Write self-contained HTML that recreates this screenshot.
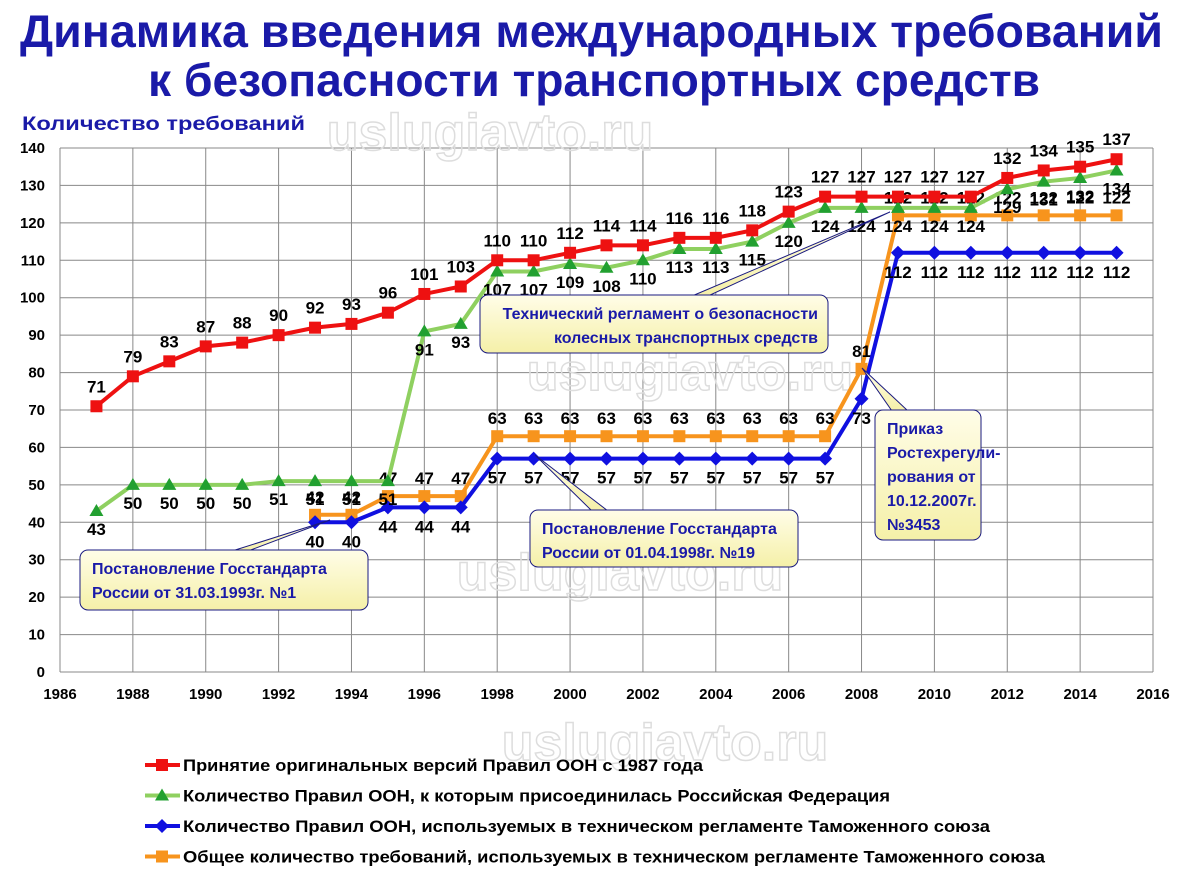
<!DOCTYPE html><html><head><meta charset="utf-8"><style>
body{margin:0;background:#fff;width:1185px;height:871px;overflow:hidden;font-family:"Liberation Sans",sans-serif}
</style></head><body>
<svg id="s" width="1185" height="871" xmlns="http://www.w3.org/2000/svg" font-family="Liberation Sans, sans-serif">
<defs><linearGradient id="g" x1="0" y1="0" x2="0" y2="1"><stop offset="0" stop-color="#fffde8"/><stop offset="1" stop-color="#f5f0a8"/></linearGradient></defs>
<text x="20" y="47" font-size="46" font-weight="bold" fill="#1a1aa8" textLength="1143" lengthAdjust="spacingAndGlyphs">Динамика введения международных требований</text>
<text x="148" y="96" font-size="46" font-weight="bold" fill="#1a1aa8" textLength="892" lengthAdjust="spacingAndGlyphs">к безопасности транспортных средств</text>
<text x="22" y="130" font-size="19" font-weight="bold" fill="#1a1aa8" textLength="283" lengthAdjust="spacingAndGlyphs">Количество  требований</text>
<g id="c"></g>
</svg>
<script>
const c=document.getElementById('c');let h='';
const X=y=>60+(y-1986)*1093/30, Y=v=>672-v*524/140;
for(let y=1986;y<=2016;y+=2){h+=`<line x1="${X(y)}" y1="148" x2="${X(y)}" y2="672" stroke="#888" stroke-width="1"/><text x="${X(y)}" y="699" font-size="15" font-weight="bold" text-anchor="middle">${y}</text>`}
for(let v=0;v<=140;v+=10){h+=`<line x1="60" y1="${Y(v)}" x2="1153" y2="${Y(v)}" stroke="#888"/><text x="45" y="${Y(v)+5}" font-size="15" font-weight="bold" text-anchor="end">${v}</text>`}
['uslugiavto.ru|490|150','uslugiavto.ru|690|390','uslugiavto.ru|620|590','uslugiavto.ru|665|760'].forEach(s=>{const[t,x,y]=s.split('|');h+=`<text x="${x}" y="${y}" font-size="52" font-weight="bold" text-anchor="middle" fill="none" stroke="#ddd" stroke-width="1.5">${t}</text>`});
const red=[71,79,83,87,88,90,92,93,96,101,103,110,110,112,114,114,116,116,118,123,127,127,127,127,127,132,134,135,137];
const grn=[43,50,50,50,50,51,51,51,51,91,93,107,107,109,108,110,113,113,115,120,124,124,124,124,124,129,131,132,134];
const blu=[40,40,44,44,44,57,57,57,57,57,57,57,57,57,57,73,112,112,112,112,112,112,112];
const org=[42,42,47,47,47,63,63,63,63,63,63,63,63,63,63,81,122,122,122,122,122,122,122];
function series(d,y0,col,mk,lab){let p=d.map((v,i)=>X(y0+i)+','+Y(v)).join(' ');h+=`<polyline points="${p}" fill="none" stroke="${col}" stroke-width="4"/>`;
d.forEach((v,i)=>{const x=X(y0+i),y=Y(v);
if(mk=='sq')h+=`<rect x="${x-6}" y="${y-6}" width="12" height="12" fill="${col}"/>`;
if(mk=='tri')h+=`<polygon points="${x},${y-7} ${x-7},${y+5} ${x+7},${y+5}" fill="#22a030"/>`;
if(mk=='dia')h+=`<polygon points="${x},${y-7} ${x+7},${y} ${x},${y+7} ${x-7},${y}" fill="${col}"/>`;
h+=`<text x="${x}" y="${y+lab}" font-size="17" font-weight="bold" text-anchor="middle">${v}</text>`})}
series(org,1993,'#f7941d','sq',-12);
series(blu,1993,'#1010e0','dia',25);
series(grn,1987,'#8fd060','tri',24);
series(red,1987,'#ee1111','sq',-14);
function box(x,y,w,ht,lines,px,py,bx,by,anchor){h+=`<polygon points="${bx-8},${by} ${bx+8},${by} ${px},${py}" fill="url(#g)" stroke="#1a1a80"/><rect x="${x}" y="${y}" width="${w}" height="${ht}" rx="8" fill="url(#g)" stroke="#1a1a80"/>`;
lines.forEach((l,i)=>h+=`<text x="${anchor=='end'?x+w-10:x+12}" y="${y+24+i*24}" font-size="16" font-weight="bold" fill="#1a1aa8" text-anchor="${anchor||'start'}">${l}</text>`)}
box(480,295,348,58,['Технический регламент о безопасности','колесных транспортных средств'],890,212,700,296,'end');
box(530,510,268,57,['Постановление Госстандарта','России от 01.04.1998г. №19'],535,455,600,511);
box(875,410,106,130,['Приказ','Ростехрегули-','рования от','10.12.2007г.','№3453'],862,368,900,411);
box(80,550,288,60,['Постановление Госстандарта','России от 31.03.1993г. №1'],330,520,240,551);
[['#ee1111','sq','Принятие оригинальных версий Правил ООН с 1987 года',520],['#8fd060','tri','Количество Правил ООН, к которым присоединилась Российская Федерация',707],['#1010e0','dia','Количество Правил ООН, используемых в техническом регламенте Таможенного союза',807],['#f7941d','sq','Общее количество требований, используемых в техническом регламенте Таможенного союза',862]].forEach((l,i)=>{const y=765+i*30.5,x=162;
h+=`<line x1="145" y1="${y}" x2="180" y2="${y}" stroke="${l[0]}" stroke-width="4"/>`;
if(l[1]=='sq')h+=`<rect x="${x-6}" y="${y-6}" width="12" height="12" fill="${l[0]}"/>`;
if(l[1]=='tri')h+=`<polygon points="${x},${y-7} ${x-7},${y+5} ${x+7},${y+5}" fill="#22a030"/>`;
if(l[1]=='dia')h+=`<polygon points="${x},${y-7} ${x+7},${y} ${x},${y+7} ${x-7},${y}" fill="${l[0]}"/>`;
h+=`<text x="183" y="${y+6}" font-size="17" font-weight="bold" textLength="${l[3]}" lengthAdjust="spacingAndGlyphs">${l[2]}</text>`});
c.innerHTML=h;
</script></body></html>
